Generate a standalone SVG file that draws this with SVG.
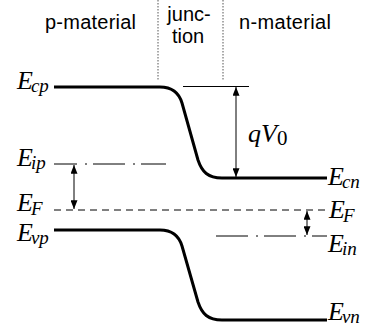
<svg xmlns="http://www.w3.org/2000/svg" width="368" height="329" viewBox="0 0 368 329">
<style>
.band{fill:none;stroke:#000;stroke-width:3;stroke-linejoin:round}
.thin{fill:none;stroke:#000;stroke-width:1}
.dot{fill:none;stroke:#555;stroke-width:1;stroke-dasharray:1.5 1.5}
.dash{fill:none;stroke:#000;stroke-width:1;stroke-dasharray:7 5}
.dd{fill:none;stroke:#000;stroke-width:1;stroke-dasharray:32 8 2 6}
.arr{fill:none;stroke:#000;stroke-width:1;marker-start:url(#ah);marker-end:url(#ah)}
.hd{font-family:"Liberation Sans",Arial,sans-serif;font-size:20px;fill:#000}
.E{font-family:"Liberation Serif","Times New Roman",serif;font-style:italic;font-size:26px;fill:#000}
.s{font-size:19px}
</style>
<defs>
<marker id="ah" viewBox="0 0 10 8" refX="10" refY="4" markerWidth="10" markerHeight="7" markerUnits="userSpaceOnUse" orient="auto-start-reverse">
<path d="M0,0 L10,4 L0,8 Z" fill="#000"/>
</marker>
</defs>
<g id="headers">
<text class="hd" x="45" y="29" textLength="91">p-material</text>
<text class="hd" x="189" y="21" text-anchor="middle">junc-</text>
<text class="hd" x="188" y="43" text-anchor="middle">tion</text>
<text class="hd" x="239" y="29" textLength="92">n-material</text>
</g>
<g id="boundaries">
<line class="dot" x1="158" y1="0" x2="158" y2="80"/>
<line class="dot" x1="223" y1="0" x2="223" y2="80"/>
</g>
<g id="conduction-band">
<path class="band" d="M54,87 H160 C172,87 179,93 182,103 L198,160 C202,172 208,178 222,178 H327"/>
</g>
<g id="valence-band">
<path class="band" d="M54,230 H160 C172,230 179,236 182,246 L198,302 C202,314 208,320 222,320 H327"/>
</g>
<g id="fermi-level">
<line class="dash" x1="54" y1="210" x2="327" y2="210"/>
</g>
<g id="intrinsic-p">
<line class="dd" x1="54" y1="164" x2="166" y2="164" stroke-dashoffset="9"/>
</g>
<g id="intrinsic-n">
<line class="dd" x1="216" y1="236" x2="327" y2="236" stroke-dashoffset="0"/>
</g>
<g id="connectors">
<line class="thin" x1="183" y1="86.5" x2="249" y2="86.5"/>
<line class="arr" x1="236" y1="87" x2="236" y2="177"/>
<line class="arr" x1="74" y1="165" x2="74" y2="209"/>
<line class="arr" x1="307" y1="211" x2="307" y2="235"/>
</g>
<g id="labels">
<text class="E" x="17" y="89">E<tspan class="s" dx="-2" dy="3">cp</tspan></text>
<text class="E" x="17" y="166">E<tspan class="s" dx="-2" dy="3">ip</tspan></text>
<text class="E" x="17" y="211">E<tspan class="s" dx="-2" dy="4">F</tspan></text>
<text class="E" x="17" y="241">E<tspan class="s" dx="-2" dy="3">vp</tspan></text>
<text class="E" x="248" y="142" font-size="29">qV<tspan font-style="normal" font-size="21" dy="3">0</tspan></text>
<text class="E" x="328" y="185">E<tspan class="s" dx="-2" dy="3">cn</tspan></text>
<text class="E" x="329" y="218">E<tspan class="s" dx="-2" dy="4">F</tspan></text>
<text class="E" x="328" y="252">E<tspan class="s" dx="-2" dy="3">in</tspan></text>
<text class="E" x="328" y="320">E<tspan class="s" dx="-2" dy="3">vn</tspan></text>
</g>
</svg>
